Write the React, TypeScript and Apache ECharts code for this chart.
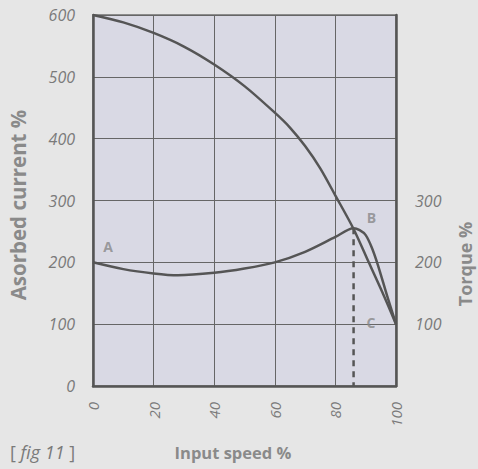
import React, { useEffect, useRef } from "react";
import * as echarts from "echarts";

const speedTicks = [0, 20, 40, 60, 80, 100];
const currentX = [0, 10, 20, 30, 40, 50, 60, 65, 70, 75, 80, 86, 91, 96, 100];
const currentY = [600, 588, 571, 549, 520, 485, 442, 418, 388, 352, 308, 254, 200, 146, 100];
const torqueX = [0, 10, 20, 28, 40, 50, 60, 70, 80, 86, 88, 90, 92, 94, 97, 100];
const torqueY = [200, 189, 182, 179, 183, 190, 200, 217, 241, 255, 252, 244, 224, 196, 147, 100];
const markerX = [86, 86];
const markerY = [255, 0];
const rightTicks = [100, 200, 300];
const pointLabels = [
  { text: "A", x: 5, y: 225 },
  { text: "B", x: 91.9, y: 272 },
  { text: "C", x: 91.7, y: 102 },
];

const FONT = "'Open Sans', 'DejaVu Sans', sans-serif";
const NUM = "#7a7a7a";
const NAME = "#8a8a8a";
const LINE = "#555555";

export default function App() {
  const ref = useRef<HTMLDivElement>(null);
  useEffect(() => {
    if (!ref.current) return;
    const chart = echarts.init(ref.current, null, { renderer: "svg" });
    const zip = (xs: number[], ys: number[]) => xs.map((x, i) => [x, ys[i]]);
    chart.setOption({
      animation: false,
      backgroundColor: "#e6e6e6",
      textStyle: { fontFamily: FONT },
      grid: {
        left: 93,
        right: 82,
        top: 15,
        bottom: 83,
        show: true,
        backgroundColor: "#d9d9e4",
        borderColor: "#8c8c8c",
        borderWidth: 2,
      },
      xAxis: {
        type: "value",
        min: 0,
        max: 100,
        interval: 20,
        axisLine: { show: true, lineStyle: { color: LINE, width: 2.5 } },
        axisTick: { show: false },
        splitLine: { show: true, lineStyle: { color: "#666", width: 1 } },
        axisLabel: {
          rotate: 90,
          margin: 16,
          color: NUM,
          fontStyle: "italic",
          fontSize: 15,
          fontFamily: FONT,
          formatter: (v: number) => (speedTicks.includes(v) ? String(v) : ""),
        },
      },
      yAxis: [
        {
          type: "value",
          min: 0,
          max: 600,
          interval: 100,
          position: "left",
          axisLine: { show: true, lineStyle: { color: LINE, width: 2.5 } },
          axisTick: { show: false },
          splitLine: { show: true, lineStyle: { color: "#666", width: 1 } },
          axisLabel: {
            margin: 18,
            color: NUM,
            fontStyle: "italic",
            fontSize: 16,
            fontFamily: FONT,
          },
        },
        {
          type: "value",
          min: 0,
          max: 600,
          interval: 100,
          position: "right",
          axisLine: { show: true, lineStyle: { color: LINE, width: 2.5 } },
          axisTick: { show: false },
          splitLine: { show: false },
          axisLabel: {
            margin: 19,
            color: NUM,
            fontStyle: "italic",
            fontSize: 16,
            fontFamily: FONT,
            formatter: (v: number) => (rightTicks.includes(v) ? String(v) : ""),
          },
        },
      ],
      series: [
        {
          type: "line",
          data: zip(currentX, currentY),
          smooth: 0.3,
          showSymbol: false,
          lineStyle: { color: LINE, width: 2.5 },
          z: 3,
        },
        {
          type: "line",
          data: zip(torqueX, torqueY),
          smooth: 0.3,
          showSymbol: false,
          lineStyle: { color: LINE, width: 2.5 },
          z: 3,
        },
        {
          type: "line",
          data: zip(markerX, markerY),
          showSymbol: false,
          lineStyle: { color: LINE, width: 2.5, type: [6, 5] },
          z: 2,
        },
        {
          type: "scatter",
          data: pointLabels.map((p) => ({ value: [p.x, p.y], name: p.text })),
          symbolSize: 0,
          label: {
            show: true,
            position: "inside",
            formatter: (p: any) => p.name,
            color: "#888",
            fontSize: 14,
            fontWeight: "bold",
            fontFamily: FONT,
          },
          z: 4,
        },
      ],
      graphic: [
        {
          type: "text",
          x: 17.5,
          y: 205,
          rotation: Math.PI / 2,
          style: {
            text: "Asorbed current %",
            fill: NAME,
            font: `bold 20.5px ${FONT}`,
            textAlign: "center",
            textVerticalAlign: "middle",
          },
        },
        {
          type: "text",
          x: 465,
          y: 264,
          rotation: Math.PI / 2,
          style: {
            text: "Torque %",
            fill: NAME,
            font: `bold 18px ${FONT}`,
            textAlign: "center",
            textVerticalAlign: "middle",
          },
        },
        {
          type: "text",
          x: 233,
          y: 452,
          style: {
            text: "Input speed %",
            fill: NAME,
            font: `bold 16.5px ${FONT}`,
            textAlign: "center",
            textVerticalAlign: "middle",
          },
        },
        {
          type: "text",
          x: 10,
          y: 452,
          style: {
            text: "[ {i|fig 11} ]",
            fill: NUM,
            font: `18px ${FONT}`,
            textVerticalAlign: "middle",
            rich: {
              i: { fontStyle: "italic", fontSize: 18, fill: NUM, fontFamily: FONT },
            },
          },
        },
      ],
    });
    return () => chart.dispose();
  }, []);
  return (
    <div
      ref={ref}
      style={{ position: "fixed", left: 0, top: 0, width: 478, height: 469 }}
    />
  );
}
